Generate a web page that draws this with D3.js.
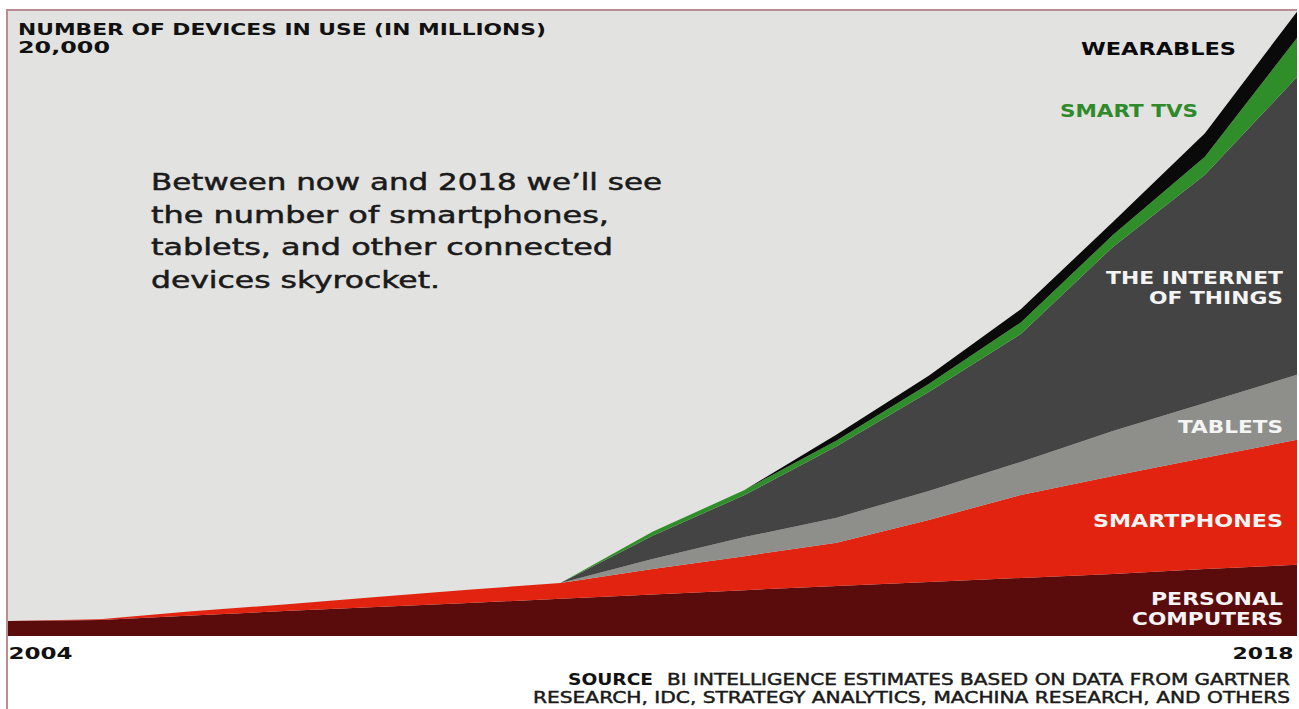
<!DOCTYPE html>
<html>
<head>
<meta charset="utf-8">
<script src="https://cdn.jsdelivr.net/npm/d3@7"></script>
<style>
  html, body { margin: 0; padding: 0; background: #fff; }
  svg { display: block; }
  .bold { font-family: "DejaVu Sans", sans-serif; font-weight: bold; }
  .note { font-family: "DejaVu Sans", sans-serif; fill: #1a1a1a; stroke: #1a1a1a; stroke-width: 0.5px; }
  .src { font-family: "DejaVu Sans", sans-serif; fill: #1a1a1a; stroke: #1a1a1a; stroke-width: 0.45px; }
</style>
</head>
<body>
<div class="wrapper"></div>
<script>
// values in millions of devices
var years = [2004, 2005, 2006, 2007, 2008, 2009, 2010, 2011, 2012, 2013, 2014, 2015, 2016, 2017, 2018];
var personalComputers = [480, 510, 660, 800, 930, 1060, 1190, 1330, 1470, 1600, 1730, 1860, 1990, 2150, 2280];
var smartphones = [0, 30, 130, 210, 320, 420, 510, 820, 1090, 1390, 1990, 2660, 3140, 3560, 4010];
var tablets = [0, 0, 0, 0, 0, 0, 0, 320, 610, 800, 930, 1060, 1440, 1760, 2080];
var internetOfThings = [0, 0, 0, 0, 0, 0, 0, 740, 1350, 2290, 3170, 4100, 5900, 7310, 9550];
var smartTVs = [0, 0, 0, 0, 0, 0, 0, 130, 160, 190, 260, 370, 380, 580, 1250];
var wearables = [0, 0, 0, 0, 0, 0, 0, 0, 0, 190, 260, 420, 420, 750, 840];

var keys = ["pc", "smartphones", "tablets", "iot", "tvs", "wearables"];
var colors = ["#5a0c0c", "#e1230f", "#8e8e8a", "#444444", "#2f8e2a", "#0a0a0a"];
var xTicks = [2004, 2018];
var yTicks = [20000];

var width = 1299, height = 709;
var x = d3.scaleLinear().domain([2004, 2018]).range([8, 1297]);
var y = d3.scaleLinear().domain([0, 20000]).range([636, 12]);

var rows = years.map(function (yr, i) {
  return {
    year: yr,
    pc: personalComputers[i],
    smartphones: smartphones[i],
    tablets: tablets[i],
    iot: internetOfThings[i],
    tvs: smartTVs[i],
    wearables: wearables[i]
  };
});

var series = d3.stack().keys(keys)(rows);

var svg = d3.select(".wrapper").append("svg")
  .attr("width", width)
  .attr("height", height);

// paper background of the plot
svg.append("rect")
  .attr("x", 8).attr("y", 10)
  .attr("width", 1289).attr("height", 626)
  .attr("fill", "#e2e2e0");

var area = d3.area()
  .x(d => x(d.data.year))
  .y0(d => y(d[0]))
  .y1(d => y(d[1]));

svg.append("g")
  .selectAll("path")
  .data(series)
  .join("path")
  .attr("fill", (d, i) => colors[i])
  .attr("d", area);

// frame lines (left and top)
svg.append("line").attr("x1", 7).attr("x2", 1297).attr("y1", 10).attr("y2", 10)
  .attr("stroke", "#b98d91").attr("stroke-width", 2);
svg.append("line").attr("x1", 7).attr("x2", 7).attr("y1", 9).attr("y2", 709)
  .attr("stroke", "#b98d91").attr("stroke-width", 2);

// title + top value
svg.append("text").attr("class", "bold")
  .attr("x", 18).attr("y", 35)
  .style("font-size", "15px")
  .attr("fill", "#111")
  .attr("textLength", 528).attr("lengthAdjust", "spacingAndGlyphs")
  .text("NUMBER OF DEVICES IN USE (IN MILLIONS)");

svg.selectAll(".ytick")
  .data(yTicks)
  .join("text")
  .attr("class", "ytick bold")
  .attr("x", 18).attr("y", 53)
  .style("font-size", "15px")
  .attr("fill", "#111")
  .attr("textLength", 92).attr("lengthAdjust", "spacingAndGlyphs")
  .text(d => d3.format(",")(d));

// x axis: just the end years
var xAxis = svg.append("g")
  .attr("transform", "translate(0,636)")
  .call(d3.axisBottom(x).tickValues(xTicks).tickFormat(d3.format("d")).tickSize(0).tickPadding(12));
xAxis.select(".domain").remove();
xAxis.selectAll("text")
  .attr("class", "bold")
  .style("font-size", "16px")
  .attr("fill", "#111")
  .attr("textLength", (d, i) => i === 0 ? 64 : 61).attr("lengthAdjust", "spacingAndGlyphs")
  .attr("text-anchor", (d, i) => i === 0 ? "start" : "end")
  .attr("x", (d, i) => i === 0 ? 0 : -4);

// annotation
var note = [
  "Between now and 2018 we\u2019ll see",
  "the number of smartphones,",
  "tablets, and other connected",
  "devices skyrocket."
];
var noteWidths = [511, 458, 462, 289];
svg.append("g").selectAll("text")
  .data(note)
  .join("text")
  .attr("class", "note")
  .attr("x", 151)
  .attr("y", (d, i) => 190 + i * 32.5)
  .style("font-size", "23px")
  .attr("textLength", (d, i) => noteWidths[i])
  .attr("lengthAdjust", "spacingAndGlyphs")
  .text(d => d);

// series labels
var labels = [
  { lines: ["WEARABLES"], x: 1236, y: 55, w: [155], fill: "#0a0a0a" },
  { lines: ["SMART TVS"], x: 1198, y: 117, w: [138], fill: "#2f8a2b" },
  { lines: ["THE INTERNET", "OF THINGS"], x: 1283, y: 284, w: [177, 134], fill: "#f4f4f4" },
  { lines: ["TABLETS"], x: 1283, y: 433, w: [105], fill: "#f4f4f4" },
  { lines: ["SMARTPHONES"], x: 1283, y: 527, w: [190], fill: "#f4f4f4" },
  { lines: ["PERSONAL", "COMPUTERS"], x: 1283, y: 605, w: [132, 151], fill: "#f4f4f4" }
];
labels.forEach(function (l) {
  l.lines.forEach(function (s, j) {
    svg.append("text")
      .attr("class", "bold")
      .attr("fill", l.fill)
      .style("font-size", "17px")
      .attr("x", l.x - l.w[j]).attr("y", l.y + j * 20)
      .attr("textLength", l.w[j]).attr("lengthAdjust", "spacingAndGlyphs")
      .text(s);
  });
});

// source
svg.append("text").attr("class", "bold").attr("x", 568).attr("y", 685)
  .style("font-size", "16px").attr("fill", "#111")
  .attr("textLength", 85).attr("lengthAdjust", "spacingAndGlyphs")
  .text("SOURCE");
svg.append("text").attr("class", "src").attr("x", 667).attr("y", 685).style("font-size", "15.5px")
  .attr("textLength", 623).attr("lengthAdjust", "spacingAndGlyphs")
  .text("BI INTELLIGENCE ESTIMATES BASED ON DATA FROM GARTNER");
svg.append("text").attr("class", "src").attr("x", 533).attr("y", 703).style("font-size", "15.5px")
  .attr("textLength", 757).attr("lengthAdjust", "spacingAndGlyphs")
  .text("RESEARCH, IDC, STRATEGY ANALYTICS, MACHINA RESEARCH, AND OTHERS");
</script>
</body>
</html>
